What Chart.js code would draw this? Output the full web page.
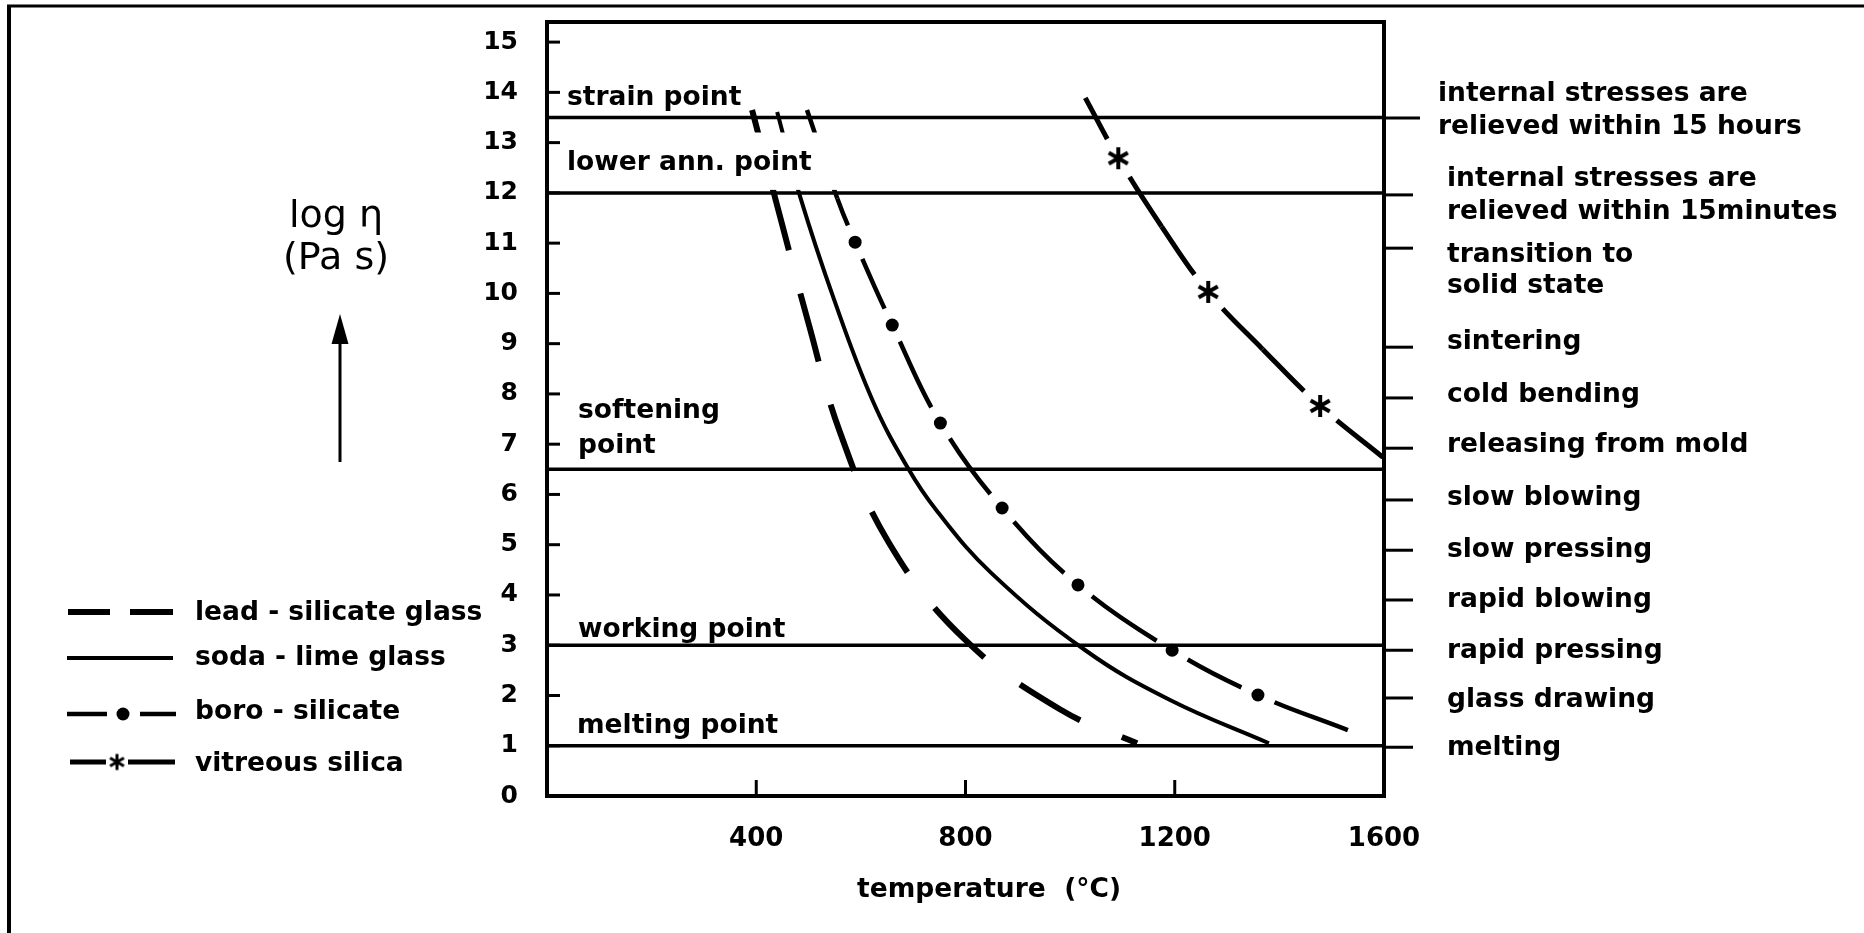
<!DOCTYPE html>
<html>
<head>
<meta charset="utf-8">
<script src="https://cdn.jsdelivr.net/npm/chart.js@4.4.1/dist/chart.umd.min.js"></script>
<style>
html,body{margin:0;padding:0;background:#fff;overflow:hidden}
canvas{display:block}
</style>
</head>
<body>
<canvas id="c" width="1864" height="933"></canvas>
<script>
// ---------------- data ----------------
const seriesNames = ['lead - silicate glass', 'soda - lime glass', 'boro - silicate', 'vitreous silica'];

const leadT      = [392, 449, 500, 560, 653, 797, 983, 1128];
const leadLogEta = [13.65, 11.39, 9.40, 7.24, 5.05, 3.13, 1.71, 1.05];

const sodaT      = [440, 484, 549, 622, 689, 744, 849, 1029, 1191, 1380];
const sodaLogEta = [13.61, 11.92, 9.87, 7.88, 6.54, 5.69, 4.44, 2.90, 1.91, 1.05];

const boroT      = [497, 555, 589, 660, 752, 870, 1015, 1195, 1359, 1531];
const boroLogEta = [13.65, 11.89, 11.02, 9.37, 7.42, 5.73, 4.20, 2.90, 2.01, 1.31];
const boroMarked = [0, 0, 1, 1, 1, 1, 1, 1, 1, 0];

const silicaT      = [1029, 1092, 1175, 1264, 1368, 1478, 1598];
const silicaLogEta = [13.89, 12.69, 11.33, 10.03, 8.89, 7.76, 6.74];
const silicaMarked = [0, 1, 0, 1, 0, 1, 0];

const xTickValues = [400, 800, 1200, 1600];
const xTickLabels = ['400', '800', '1200', '1600'];
const yTickValues = [0, 1, 2, 3, 4, 5, 6, 7, 8, 9, 10, 11, 12, 13, 14, 15];

const refLevels = [13.5, 12, 6.5, 3, 1];
const refLabels = [['strain point'], ['lower ann. point'], ['softening', 'point'], ['working point'], ['melting point']];

const rightTickValues = [13.49, 11.96, 10.9, 8.93, 7.92, 6.92, 5.89, 4.89, 3.9, 2.9, 1.95, 0.97];
const rightTickLabels = [
  ['internal stresses are', 'relieved within 15 hours'],
  ['internal stresses are', 'relieved within 15minutes'],
  ['transition to', 'solid state'],
  ['sintering'], ['cold bending'], ['releasing from mold'],
  ['slow blowing'], ['slow pressing'], ['rapid blowing'], ['rapid pressing'],
  ['glass drawing'], ['melting']
];
const yTitle = ['log \u03B7', '(Pa s)'];
const xTitle = 'temperature  (\u00B0C)';

// ---------------- helpers ----------------
const toPts = (xs, ys) => xs.map((v, i) => ({x: v, y: ys[i]}));

function makeStar(r, w) {
  const c = document.createElement('canvas');
  const s = Math.ceil(2 * r + w + 2);
  c.width = c.height = s;
  const g = c.getContext('2d');
  g.strokeStyle = '#000'; g.lineWidth = w; g.lineCap = 'butt';
  const cx = s / 2, cy = s / 2;
  for (let k = 0; k < 3; k++) {
    const a = Math.PI / 2 + k * Math.PI / 3;
    g.beginPath();
    g.moveTo(cx - r * Math.cos(a), cy - r * Math.sin(a));
    g.lineTo(cx + r * Math.cos(a), cy + r * Math.sin(a));
    g.stroke();
  }
  return c;
}
const starImg = makeStar(11, 4);
const starLegend = makeStar(8, 3);

// dash pattern that leaves a gap around each marked point
function markerGapSegment(marked, gap) {
  const info = (c) => {
    const s = marked[c.p0DataIndex] ? gap : 0;
    const e = marked[c.p1DataIndex] ? gap : 0;
    const d = Math.hypot(c.p1.x - c.p0.x, c.p1.y - c.p0.y);
    return {s, e, dash: Math.max(d - s - e, 0.01)};
  };
  return {
    borderDash: (c) => { const k = info(c); return (!k.s && !k.e) ? [] : [k.dash, 100000]; },
    borderDashOffset: (c) => { const k = info(c); return k.s ? k.dash + 100000 - k.s : 0; }
  };
}

const FAM = '"DejaVu Sans", sans-serif';
const BOLD = (px) => 'bold ' + px + 'px ' + FAM;

// ---------------- decoration plugin ----------------
const decor = {
  id: 'decor',
  afterDatasetsDraw(chart) {
    const {ctx, chartArea: a, scales: {x, y}} = chart;
    const Y = (v) => y.getPixelForValue(v);
    const X = (v) => x.getPixelForValue(v);
    const seg = (x1, y1, x2, y2) => { ctx.beginPath(); ctx.moveTo(x1, y1); ctx.lineTo(x2, y2); ctx.stroke(); };
    const txt = (s, px, py, font, align) => {
      ctx.font = font; ctx.textAlign = align || 'left'; ctx.textBaseline = 'alphabetic'; ctx.fillText(s, px, py);
    };
    ctx.save();
    ctx.fillStyle = '#000';
    ctx.strokeStyle = '#000';
    ctx.lineCap = 'butt';

    // white label band behind "lower ann. point"
    ctx.fillStyle = '#fff';
    const bt = Y(refLevels[0]) + 15, bb = Y(refLevels[1]) - 3;
    ctx.fillRect(a.left + 3, bt, 300, bb - bt);
    ctx.fillStyle = '#000';

    // reference lines
    ctx.lineWidth = 3.5;
    refLevels.forEach(v => seg(a.left, Y(v), a.right, Y(v)));

    // frame
    ctx.lineWidth = 4;
    ctx.strokeRect(a.left, a.top, a.right - a.left, a.bottom - a.top);

    // inward ticks
    ctx.lineWidth = 3;
    yTickValues.filter(v => v > 0).forEach(v => seg(a.left, Y(v), a.left + 13, Y(v)));
    xTickValues.filter(v => v < x.max).forEach(v => seg(X(v), a.bottom, X(v), a.bottom - 16));

    // right ticks
    rightTickValues.forEach((v, i) => seg(a.right, Y(v), a.right + (i === 0 ? 36 : 29), Y(v)));

    // right labels
    const rOff = [[-17, 16], [-9, 24], [14, 45], [2], [4], [4], [5], [7], [7], [8], [9], [8]];
    rightTickLabels.forEach((lines, i) => {
      const px = i === 0 ? a.right + 54 : a.right + 63;
      lines.forEach((s, j) => txt(s, px, Y(rightTickValues[i]) + rOff[i][j], BOLD(26.5)));
    });

    // left annotation labels
    const lOff = [[-12], [-23], [-51, -16], [-8], [-13]];
    const lX = [a.left + 20, a.left + 20, a.left + 31, a.left + 31, a.left + 30];
    refLabels.forEach((lines, i) => {
      lines.forEach((s, j) => txt(s, lX[i], Y(refLevels[i]) + lOff[i][j], BOLD(26.5)));
    });

    // x title
    txt(xTitle, X(845), 897, BOLD(26.5), 'center');

    // y title + arrow
    txt(yTitle[0], 336, 227, '38px ' + FAM, 'center');
    txt(yTitle[1], 336, 269, '38px ' + FAM, 'center');
    ctx.lineWidth = 3;
    seg(340, 462, 340, 335);
    ctx.beginPath(); ctx.moveTo(340, 314); ctx.lineTo(331.5, 344); ctx.lineTo(348.5, 344); ctx.closePath(); ctx.fill();

    // legend
    const rowY = [612, 658, 714, 762];
    const rowBase = [620, 665, 719, 771];
    ctx.lineWidth = 6; seg(68, rowY[0], 110, rowY[0]); seg(130, rowY[0], 173, rowY[0]);
    ctx.lineWidth = 4; seg(67, rowY[1], 173, rowY[1]);
    ctx.lineWidth = 4.5; seg(67, rowY[2], 107, rowY[2]); seg(140, rowY[2], 176, rowY[2]);
    ctx.beginPath(); ctx.arc(123, rowY[2], 6.5, 0, Math.PI * 2); ctx.fill();
    ctx.lineWidth = 5; seg(70, rowY[3], 106, rowY[3]); seg(128, rowY[3], 175, rowY[3]);
    ctx.drawImage(starLegend, 117 - starLegend.width / 2, rowY[3] - starLegend.height / 2);
    chart.data.datasets.forEach((ds, i) => txt(ds.label, 195, rowBase[i], BOLD(26.5)));

    // outer frame of the figure
    ctx.lineWidth = 3; seg(7, 6, 1864, 6);
    ctx.lineWidth = 4; seg(9, 5, 9, 933);

    ctx.restore();
  }
};

// ---------------- chart ----------------
new Chart(document.getElementById('c').getContext('2d'), {
  type: 'line',
  data: {
    datasets: [
      { label: seriesNames[0], data: toPts(leadT, leadLogEta), borderColor: '#000', borderWidth: 6,
        borderDash: [70, 45], borderDashOffset: 40, borderCapStyle: 'butt', pointRadius: 0, tension: 0.4 },
      { label: seriesNames[1], data: toPts(sodaT, sodaLogEta), borderColor: '#000', borderWidth: 4,
        pointRadius: 0, tension: 0.4 },
      { label: seriesNames[2], data: toPts(boroT, boroLogEta), borderColor: '#000', borderWidth: 4.5,
        borderCapStyle: 'butt', tension: 0.4,
        pointRadius: boroMarked.map(m => m ? 6.5 : 0), pointStyle: 'circle',
        pointBackgroundColor: '#000', pointBorderColor: '#000', pointBorderWidth: 0,
        segment: markerGapSegment(boroMarked, 18) },
      { label: seriesNames[3], data: toPts(silicaT, silicaLogEta), borderColor: '#000', borderWidth: 5,
        borderCapStyle: 'butt', tension: 0.4,
        pointRadius: silicaMarked.map(m => m ? 11 : 0), pointStyle: starImg,
        segment: markerGapSegment(silicaMarked, 22) }
    ]
  },
  options: {
    responsive: false,
    animation: false,
    events: [],
    layout: { padding: { left: 0, top: 22, right: 480, bottom: 0 } },
    plugins: { legend: { display: false }, tooltip: { enabled: false } },
    scales: {
      x: {
        type: 'linear', min: 0, max: 1600,
        afterFit(s) { s.height = 137; s.paddingLeft = 0; s.paddingRight = 0; },
        afterBuildTicks(s) { s.ticks = xTickValues.map(v => ({ value: v })); },
        ticks: {
          callback: (v) => xTickLabels[xTickValues.indexOf(v)],
          font: { family: 'DejaVu Sans', weight: 'bold', size: 26 }, color: '#000',
          padding: 28, maxRotation: 0, autoSkip: false
        },
        grid: { display: false, drawTicks: false },
        border: { display: false }
      },
      y: {
        type: 'linear', min: 0, max: 15.4,
        afterFit(s) { s.width = 547; s.paddingTop = 0; s.paddingBottom = 0; },
        afterBuildTicks(s) { s.ticks = yTickValues.map(v => ({ value: v })); },
        ticks: {
          font: { family: 'DejaVu Sans', weight: 'bold', size: 25 }, color: '#000',
          padding: 29, autoSkip: false
        },
        grid: { display: false, drawTicks: false },
        border: { display: false }
      }
    }
  },
  plugins: [decor]
});
</script>
</body>
</html>
